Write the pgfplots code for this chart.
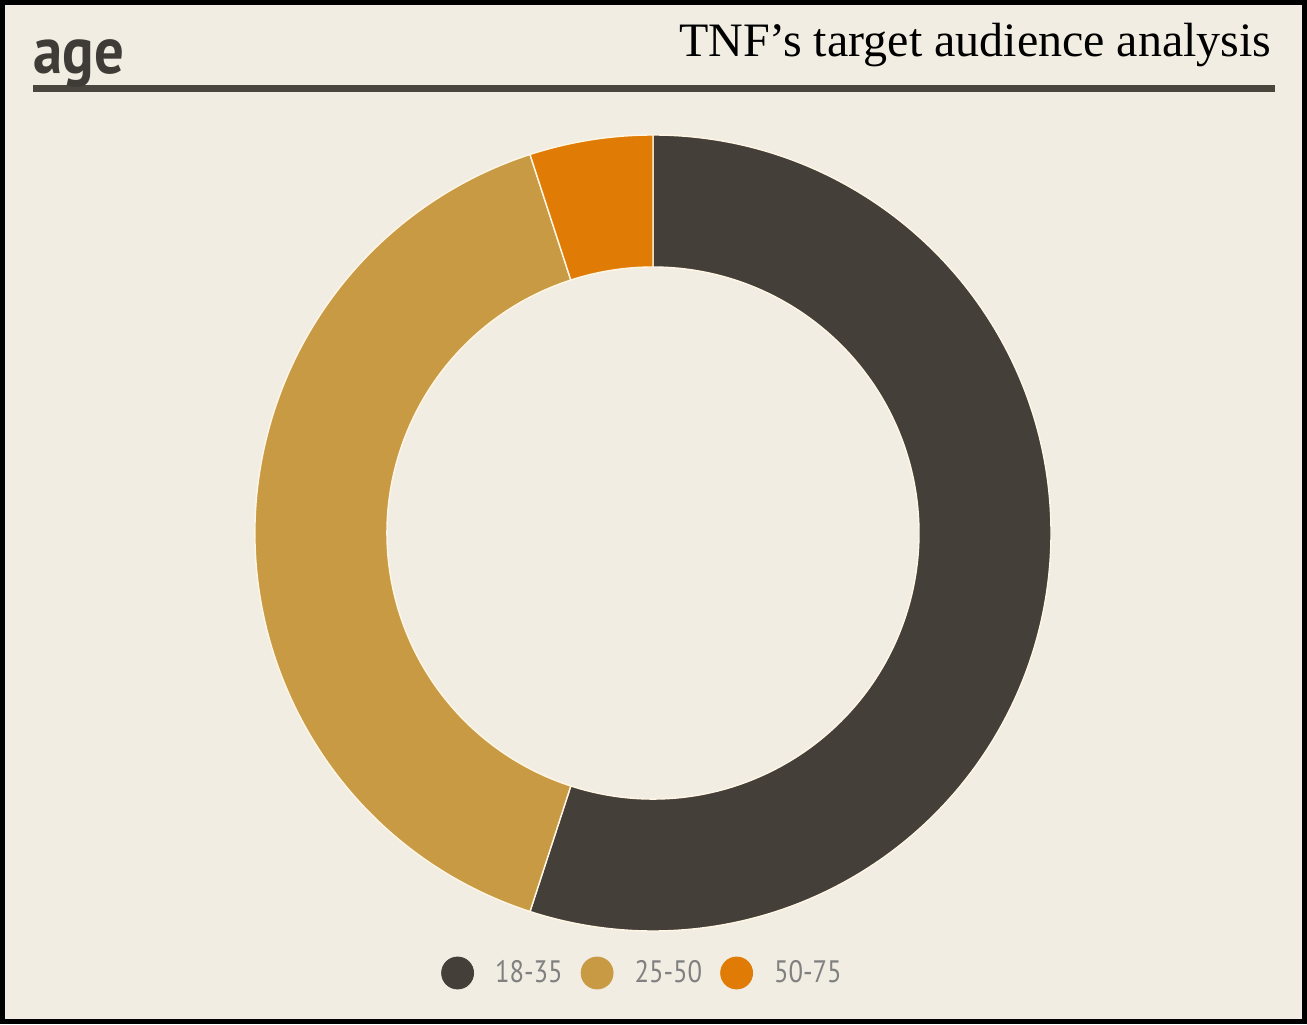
\documentclass[border=0pt]{standalone}
\usepackage{fontspec}
\usepackage{graphicx}
\usepackage{pgfplots}
\pgfplotsset{compat=1.18}
\setmainfont{Liberation Serif}
\newfontfamily\ptsans{PT Sans}
\definecolor{bgc}{HTML}{F2EDE2}
\definecolor{cdark}{HTML}{443F38}
\definecolor{ctan}{HTML}{C99A44}
\definecolor{corange}{HTML}{E07C05}
\definecolor{crule}{HTML}{4A463E}
\definecolor{cage}{HTML}{3F3B36}
\definecolor{cleg}{HTML}{808080}
\definecolor{csep}{HTML}{FFF6E6}
% shares (percent) of the donut slices
\def\valA{55}
\def\valB{40}
\def\valC{5}
\pgfmathsetmacro\angA{90-3.6*\valA}
\pgfmathsetmacro\angB{\angA-3.6*\valB}
\pgfmathsetmacro\angC{\angB-3.6*\valC}
\begin{document}
\begin{tikzpicture}
\begin{axis}[
  x=0.5pt, y=0.5pt,
  xmin=0, xmax=1307, ymin=0, ymax=1024,
  scale only axis, hide axis, clip=false,
  legend columns=-1,
  legend image code/.code={\fill[#1] (0pt,0pt) circle (8pt);},
  legend style={
    draw=none, fill=none,
    at={(0.4908,0.0498)}, anchor=center,
    font=\ptsans\fontsize{15.5}{18}\selectfont, text=cleg,
    nodes={inner sep=0pt},
    /tikz/every odd column/.append style={column sep=10.5pt},
    /tikz/every even column/.append style={column sep=9pt},
  },
]
% background and frame
\fill[bgc] (axis cs:0,0) rectangle (axis cs:1307,1024);
\draw[black, line width=2.5pt] (axis cs:2.5,2.5) rectangle (axis cs:1304.5,1021.5);
% header
\fill[crule] (axis cs:33,932) rectangle (axis cs:1275,939);
\node[anchor=base west, inner sep=0pt, text=cage, font=\ptsans\bfseries\fontsize{33}{36}\selectfont] at (axis cs:33,950) {\scalebox{0.89}[1]{age}};
\node[anchor=base east, inner sep=0pt, font=\fontsize{24}{28}\selectfont] at (axis cs:1272,967) {TNF’s target audience analysis};
% donut
\filldraw[fill=cdark, draw=csep, line width=0.7pt] (axis cs:653,491) ++(90:199pt) arc[start angle=90, end angle=\angA, radius=199pt] -- ++(\angA:-66pt) arc[start angle=\angA, end angle=90, radius=133pt] -- cycle;
\filldraw[fill=ctan, draw=csep, line width=0.7pt] (axis cs:653,491) ++(\angA:199pt) arc[start angle=\angA, end angle=\angB, radius=199pt] -- ++(\angB:-66pt) arc[start angle=\angB, end angle=\angA, radius=133pt] -- cycle;
\filldraw[fill=corange, draw=csep, line width=0.7pt] (axis cs:653,491) ++(\angB:199pt) arc[start angle=\angB, end angle=\angC, radius=199pt] -- ++(\angC:-66pt) arc[start angle=\angC, end angle=\angB, radius=133pt] -- cycle;
\addlegendimage{cdark}
\addlegendentry{\scalebox{0.86}[1]{18-35}}
\addlegendimage{ctan}
\addlegendentry{\scalebox{0.86}[1]{25-50}}
\addlegendimage{corange}
\addlegendentry{\scalebox{0.86}[1]{50-75}}
\end{axis}
\end{tikzpicture}
\end{document}
